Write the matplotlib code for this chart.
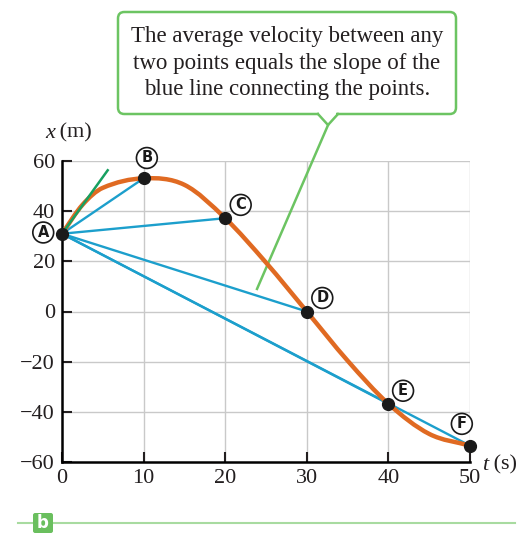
import matplotlib
matplotlib.use('Agg')
import matplotlib.pyplot as plt
from matplotlib.path import Path
from matplotlib.patches import PathPatch, FancyBboxPatch, Rectangle
from matplotlib.lines import Line2D

# positions of the car at the labelled points
labels = ['A', 'B', 'C', 'D', 'E', 'F']
t_pts = [0, 10, 20, 30, 40, 50]
x_pts = [31, 53.1, 37.2, 0, -36.8, -53.5]

# points
t_curve = [0, 2.5, 5, 10, 15, 20, 25, 30, 35, 40, 45, 50]
x_curve = [31, 42.5, 49.3, 53.1, 50.5, 37.2, 19.5, 0, -19.6, -36.8, -48.8,
           -53.5]

# tangent at A and callout pointer
tangent_t = [0, 5.6]
tangent_x = [31, 56.3]
pointer_t = [32.6, 23.9]
pointer_x = [74.3, 9.0]

x_ticks = [0, 10, 20, 30, 40, 50]
y_ticks = [-60, -40, -20, 0, 20, 40, 60]

# label positions around each point
label_pos = [(-2.3, 31.5), (10.4, 61.2), (21.9, 42.5), (31.9, 5.4),
             (41.8, -31.6), (49.0, -44.8)]

orange = '#e06a22'
blue = '#1c9fcc'
green = '#6cc462'
serif = 'Liberation Serif'

fig = plt.figure(figsize=(5.27, 5.35), dpi=100)
ax = fig.add_axes([62 / 527, 73 / 535, 408 / 527, 301 / 535])
ax.set_xlim(0, 50)
ax.set_ylim(-60, 60)

# grid
for t in x_ticks[1:]:
    ax.axvline(t, color='#c9c9c9', lw=1, zorder=0)
for y in y_ticks[1:]:
    ax.axhline(y, color='#c9c9c9', lw=1, zorder=0)

for s in ['top', 'right']:
    ax.spines[s].set_visible(False)
for s in ['left', 'bottom']:
    ax.spines[s].set_linewidth(1.8)
ax.set_xticks(x_ticks)
ax.set_yticks(y_ticks)
ax.set_xticklabels([str(v) for v in x_ticks])
ax.set_yticklabels([str(v).replace('-', '\u2212') for v in y_ticks])
ax.tick_params(direction='in', length=7, width=1.5, labelsize=16, pad=5,
               colors='#231f20')
for lab in ax.get_xticklabels() + ax.get_yticklabels():
    lab.set_fontfamily(serif)

# blue chords from A
for t, x in zip(t_pts[1:], x_pts[1:]):
    ax.plot([t_pts[0], t], [x_pts[0], x], color=blue, lw=1.7, zorder=2)

# smooth curve through the read points (cubic Hermite as Beziers)
n = len(t_curve)
slopes = []
for i in range(n):
    a = max(i - 1, 0)
    b = min(i + 1, n - 1)
    slopes.append((x_curve[b] - x_curve[a]) / (t_curve[b] - t_curve[a]))
verts = [(t_curve[0], x_curve[0])]
codes = [Path.MOVETO]
for i in range(n - 1):
    h = t_curve[i + 1] - t_curve[i]
    verts += [(t_curve[i] + h / 3, x_curve[i] + slopes[i] * h / 3),
              (t_curve[i + 1] - h / 3, x_curve[i + 1] - slopes[i + 1] * h / 3),
              (t_curve[i + 1], x_curve[i + 1])]
    codes += [Path.CURVE4] * 3
ax.add_patch(PathPatch(Path(verts, codes), fc='none', ec=orange, lw=3.2,
                       capstyle='round', zorder=3))

# tangent line at A
ax.plot(tangent_t, tangent_x, color='#17a061', lw=1.8, zorder=4)

ax.plot(t_pts, x_pts, 'o', color='#1a1a1a', ms=8.5, zorder=5, clip_on=False)

for name, (lt, lx) in zip(labels, label_pos):
    ax.text(lt, lx, name, ha='center', va='center', fontsize=10.5,
            fontweight='bold', family='DejaVu Sans', color='#1a1a1a',
            bbox=dict(boxstyle='circle,pad=0.2', fc='white', ec='#1a1a1a', lw=1.2),
            zorder=6, clip_on=False)

# axis labels
fig.text(45 / 527, 1 - 133 / 535, 'x', fontsize=16, family=serif,
         ha='left', va='center', style='italic', color='#231f20')
fig.text(54 / 527, 1 - 133 / 535, ' (m)', fontsize=16, family=serif,
         ha='left', va='center', color='#231f20')
fig.text(482 / 527, 1 - 465 / 535, 't', fontsize=16, family=serif,
         ha='left', va='center', style='italic', color='#231f20')
fig.text(488 / 527, 1 - 465 / 535, ' (s)', fontsize=16, family=serif,
         ha='left', va='center', color='#231f20')

# callout pointer
ax.plot(pointer_t, pointer_x, color=green, lw=1.8, zorder=1, clip_on=False)

# callout box
box = FancyBboxPatch((118 / 527, 1 - 114 / 535), 338 / 527, 102 / 535,
                     boxstyle='round,pad=0,rounding_size=0.012',
                     transform=fig.transFigure, fc='white', ec=green, lw=1.8,
                     zorder=1)
fig.patches.append(box)
cover = Rectangle((319.5 / 527, 1 - 116 / 535), 17 / 527, 4 / 535,
                  transform=fig.transFigure, fc='white', ec='none', zorder=3)
fig.patches.append(cover)
notch = Line2D([318 / 527, 328 / 527, 338 / 527],
               [1 - 114 / 535, 1 - 125 / 535, 1 - 114 / 535],
               transform=fig.transFigure, color=green, lw=1.8, zorder=4)
fig.lines.append(notch)
fig.text(287 / 527, 1 - 63 / 535,
         'The average velocity between any\ntwo points equals the slope of the\n'
         'blue line connecting the points.',
         ha='center', va='center', fontsize=16.5, family=serif,
         color='#231f20', linespacing=1.32, zorder=5)

# bottom rule with panel tag
fig.lines.append(Line2D([18 / 527, 515 / 527], [1 - 523 / 535, 1 - 523 / 535],
                        transform=fig.transFigure, color='#a8dba0', lw=1.5,
                        zorder=1))
fig.patches.append(FancyBboxPatch((33 / 527, 1 - 533 / 535), 20 / 527, 20 / 535,
                                  boxstyle='round,pad=0,rounding_size=0.004',
                                  transform=fig.transFigure, fc='#6abf5e',
                                  ec='none', zorder=3))
fig.text(43 / 527, 1 - 523 / 535, 'b', ha='center', va='center', fontsize=12,
         fontweight='bold', color='white', family='DejaVu Sans', zorder=4)

fig.savefig('out.png', dpi=100)
